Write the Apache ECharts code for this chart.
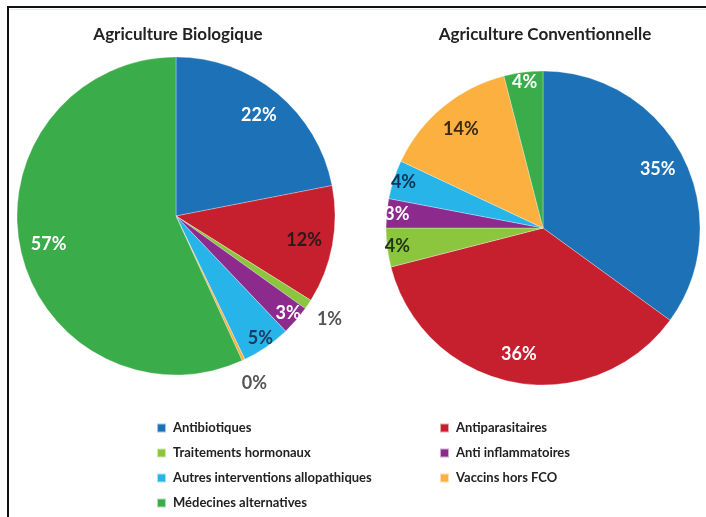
<!DOCTYPE html>
<html>
<head>
<meta charset="utf-8">
<script src="https://cdn.jsdelivr.net/npm/echarts@6/dist/echarts.min.js"></script>
<style>
html,body{margin:0;padding:0;background:#fff;}
#chart{width:706px;height:517px;}
</style>
</head>
<body>
<div id="chart"></div>
<script>
// ---- data ----
const categories = ['Antibiotiques', 'Antiparasitaires', 'Traitements hormonaux', 'Anti inflammatoires',
  'Autres interventions allopathiques', 'Vaccins hors FCO', 'Médecines alternatives'];
const bioValues = [22, 12, 1, 3, 5, 0.3, 57];
const convValues = [35, 36, 4, 3, 4, 14, 4];
const chartTitles = ['Agriculture Biologique', 'Agriculture Conventionnelle'];
const legendLeftItems = ['Antibiotiques', 'Traitements hormonaux', 'Autres interventions allopathiques', 'Médecines alternatives'];
const legendRightItems = ['Antiparasitaires', 'Anti inflammatoires', 'Vaccins hors FCO'];

// ---- styles ----
const sliceColors = ['#1c71b7', '#c61f2e', '#8cc63f', '#8c2a8d', '#27b4e8', '#fbb040', '#3aac4a'];
const bioLabelColors = ['#ffffff', '#2a1a1a', '#555555', '#ffffff', '#173d62', '#555555', '#ffffff'];
const convLabelColors = ['#ffffff', '#ffffff', '#1f3517', '#ffffff', '#12324f', '#3a2a12', '#ffffff'];
const FONT = 'Lato, "Open Sans", "DejaVu Sans", sans-serif';

function makePie(values, labelColors, center, radius) {
  return {
    type: 'pie',
    center: center,
    radius: radius,
    startAngle: 90,
    clockwise: true,
    avoidLabelOverlap: false,
    silent: true,
    label: {
      show: true,
      position: 'inside',
      fontFamily: FONT,
      fontWeight: 'bold',
      fontSize: 18,
      formatter: p => Math.round(p.value) + '%'
    },
    labelLine: { show: false },
    itemStyle: { borderColor: 'rgba(255,255,255,0.6)', borderWidth: 0.5 },
    labelLayout: function (p) {
      const r = p.labelRect;
      const lx = r.x + r.width / 2, ly = r.y + r.height / 2;
      const v = values[p.dataIndex];
      const ratio = v < 2 ? 1.12 : (v > 10 ? 0.79 : 0.9);
      const k = ratio / 0.5 - 1;
      return { dx: (lx - center[0]) * k, dy: (ly - center[1]) * k };
    },
    data: categories.map((c, i) => ({
      name: c,
      value: values[i],
      itemStyle: { color: sliceColors[i] },
      label: { color: labelColors[i] }
    }))
  };
}

const chart = echarts.init(document.getElementById('chart'), null, { renderer: 'canvas' });
const legendCommon = {
  orient: 'vertical',
  icon: 'rect',
  itemWidth: 9,
  itemHeight: 9,
  itemGap: 11,
  padding: 0,
  height: 100,
  selectedMode: false,
  textStyle: { fontFamily: FONT, fontWeight: 'bold', fontSize: 13, color: '#222', lineHeight: 14, padding: [0, 0, 0, 2] }
};
chart.setOption({
  animation: false,
  backgroundColor: '#ffffff',
  color: sliceColors,
  legend: [
    Object.assign({}, legendCommon, { left: 156, top: 421, data: legendLeftItems }),
    Object.assign({}, legendCommon, { left: 439, top: 421, data: legendRightItems })
  ],
  graphic: [
    { type: 'rect', shape: { x: 8, y: 7, width: 760, height: 600 }, style: { fill: 'none', stroke: '#111', lineWidth: 2 }, silent: true },
    { type: 'line', shape: { x1: 9, y1: 9.5, x2: 706, y2: 9.5 }, style: { stroke: '#dcf3e4', lineWidth: 1 }, silent: true },
    { type: 'text', x: 178, y: 35, style: { text: chartTitles[0], textAlign: 'center', textVerticalAlign: 'middle', fontFamily: FONT, fontWeight: 'bold', fontSize: 17, fill: '#222' }, silent: true },
    { type: 'text', x: 545, y: 35, style: { text: chartTitles[1], textAlign: 'center', textVerticalAlign: 'middle', fontFamily: FONT, fontWeight: 'bold', fontSize: 17, fill: '#222' }, silent: true }
  ],
  series: [
    makePie(bioValues, bioLabelColors, [176, 216], 159),
    makePie(convValues, convLabelColors, [543, 228], 157)
  ]
});
</script>
</body>
</html>
